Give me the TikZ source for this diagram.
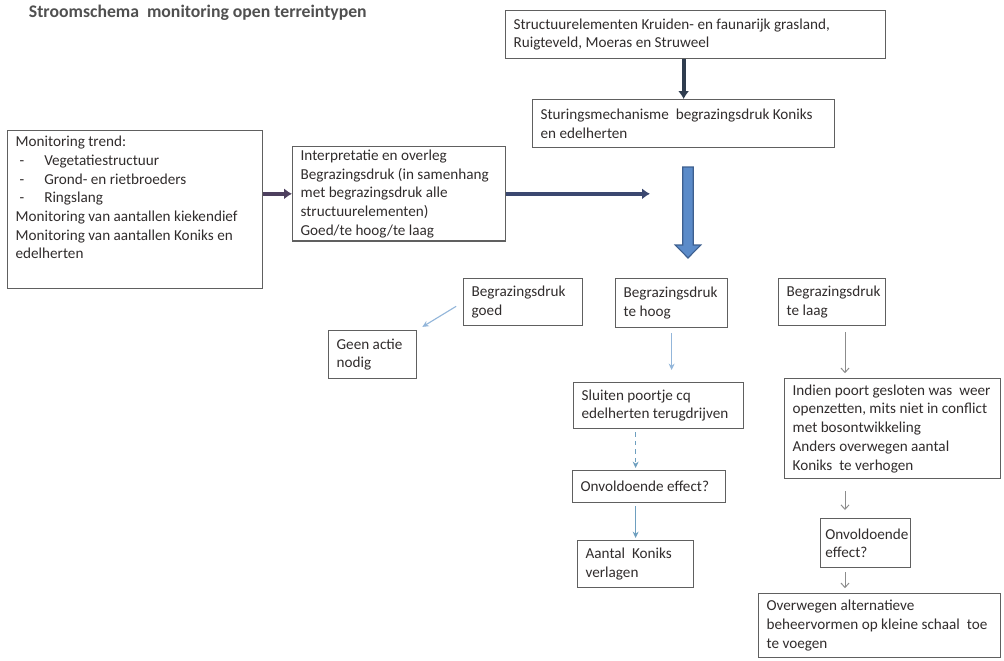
\documentclass[tikz,border=0pt]{standalone}
\usepackage{fontspec}
\setmainfont{Carlito}
\usetikzlibrary{arrows.meta, positioning, calc}
\definecolor{schemtext}{HTML}{302C2C}
\definecolor{schemtitle}{HTML}{505050}
\definecolor{boxline}{HTML}{606060}
\definecolor{darknavy}{HTML}{2F3D4F}
\definecolor{darkplum}{HTML}{4D3F5E}
\definecolor{darkslate}{HTML}{3B4870}
\definecolor{bigblue}{HTML}{5B8BC9}
\definecolor{bigblueline}{HTML}{3D5F8F}
\definecolor{paleblue}{HTML}{93B6DA}
\definecolor{tealblue}{HTML}{6E9FBF}
\definecolor{thingray}{HTML}{8C8C8C}

\begin{document}
\begin{tikzpicture}[
    every node/.style={font=\fontsize{10.8}{13.3}\selectfont, text=schemtext},
    box/.style={draw=boxline, line width=0.9pt, anchor=north west, align=flush left,
                inner xsep=0.2cm, inner ysep=0.08cm},
    heavy/.style={line width=3pt, -{Latex[length=2mm, width=2.8mm]}},
    thinblue/.style={draw=paleblue, line width=0.8pt, -{Stealth[length=1.6mm, width=1.5mm]}},
    thinteal/.style={draw=tealblue, line width=0.8pt, -{Stealth[length=1.6mm, width=1.5mm]}},
    thingrey/.style={draw=thingray, line width=0.7pt, -{Straight Barb[length=1.1mm, width=2mm]}},
]

% Page frame
\useasboundingbox (0,0) rectangle (25.1,-16.5);

% Title
\node[anchor=west, font=\fontsize{12.6}{15}\selectfont\bfseries, text=schemtitle] (title) at (0.6,-0.32)
      {Stroomschema\ \ monitoring open terreintypen};

% === Top: structure elements and steering ===
\node[box, text width=9.1cm, minimum height=1.2cm] (struct) at (12.625,-0.25)
      {Structuurelementen Kruiden- en faunarijk grasland,\\Ruigteveld, Moeras en Struweel};

\node[box, text width=7.15cm, minimum height=1.2cm] (sturing) at (13.3,-2.475)
      {Sturingsmechanisme\ \ begrazingsdruk Koniks\\en edelherten};

% === Monitoring and interpretation ===
\node[box, text width=5.975cm, minimum height=3.95cm] (mon) at (0.175,-3.25)
      {Monitoring trend:\\
      \hspace*{0.1cm}-\hspace*{0.5cm}Vegetatiestructuur\\
      \hspace*{0.1cm}-\hspace*{0.5cm}Grond- en rietbroeders\\
      \hspace*{0.1cm}-\hspace*{0.5cm}Ringslang\\
      Monitoring van aantallen kiekendief\\
      Monitoring van aantallen Koniks en\\
      edelherten\\ \strut};

\node[box, text width=4.925cm, minimum height=2.35cm] (interp) at (7.3,-3.65)
      {Interpretatie en overleg\\Begrazingsdruk (in samenhang\\met begrazingsdruk alle\\structuurelementen)\\Goed/te hoog/te laag};

% === Three outcomes ===
\node[box, text width=2.575cm, minimum height=1.175cm] (goed) at (11.575,-6.95)
      {Begrazingsdruk\\goed};
\node[box, text width=2.4cm, minimum height=1.225cm] (hoog) at (15.375,-6.95)
      {Begrazingsdruk\\te hoog};
\node[box, text width=2.275cm, minimum height=1.175cm] (laag) at (19.45,-6.95)
      {Begrazingsdruk\\te laag};

\node[box, text width=1.8cm, minimum height=1.2cm] (geen) at (8.2,-8.25)
      {Geen actie\\nodig};

% left column: too high
\node[box, text width=3.85cm, minimum height=1.15cm] (sluiten) at (14.325,-9.55)
      {Sluiten poortje cq\\edelherten terugdrijven};
\node[box, text width=3.425cm, minimum height=0.8cm] (onv1) at (14.3,-11.75)
      {Onvoldoende effect?};
\node[box, text width=2.5cm, minimum height=1.175cm] (aantal) at (14.425,-13.5)
      {Aantal\ \ Koniks\\verlagen};

% right column: too low
\node[box, text width=5.0cm, minimum height=2.5cm] (indien) at (19.6,-9.45)
      {Indien poort gesloten was\ \ weer\\openzetten, mits niet in conflict\\met bosontwikkeling\\Anders overwegen aantal\\Koniks\ \ te verhogen};
\node[box, text width=2.0cm, inner xsep=0.12cm, minimum height=1.225cm] (onv2) at (20.5,-12.95)
      {Onvoldoende\\effect?};
\node[box, text width=5.65cm, minimum height=1.6cm] (overw) at (18.95,-14.825)
      {Overwegen alternatieve\\beheervormen op kleine schaal\ \ toe\\te voegen};

% === Connectors ===
\coordinate (hend) at (16.25,0);
\coordinate (rcol) at (21.125,0);
\coordinate (bigtop) at (17.2,-4.175);
\coordinate (bigtip) at (17.2,-6.45);

\draw[heavy, draw=darknavy] (struct.south -| sturing.north) -- (sturing.north);
\draw[heavy, draw=darkplum] (mon.east |- interp.west) -- (interp.west);
\draw[heavy, draw=darkslate] (interp.east) -- (interp.east -| hend);

% big blue arrow
\draw[draw=bigblueline, fill=bigblue, line width=0.8pt]
      ($(bigtop)+(-0.13,0)$) -- ++(0,-1.95) -- ++(-0.19,0) -- (bigtip)
      -- ($(bigtip)+(0.32,0.325)$) -- ++(-0.19,0) -- ($(bigtop)+(0.13,0)$) -- cycle;

\draw[thinblue, shorten <=0.2cm, shorten >=0.15cm] (goed.west) -- (geen.north east);
\draw[thinblue, shorten <=0.12cm, shorten >=0.3cm] (hoog.south) -- (hoog.south |- sluiten.north);

\draw[thinteal, dashed, shorten <=0.08cm, shorten >=0.05cm] (aantal.north |- sluiten.south) -- (aantal.north |- onv1.north);
\draw[thinteal, shorten <=0.08cm, shorten >=0.05cm] (aantal.north |- onv1.south) -- (aantal.north);

\draw[thingrey, shorten <=0.15cm, shorten >=0.12cm] (rcol |- laag.south) -- (rcol |- indien.north);
\draw[thingrey, shorten <=0.3cm, shorten >=0.2cm] (rcol |- indien.south) -- (rcol |- onv2.north);
\draw[thingrey, shorten <=0.1cm, shorten >=0.12cm] (rcol |- onv2.south) -- (rcol |- overw.north);

\end{tikzpicture}
\end{document}
